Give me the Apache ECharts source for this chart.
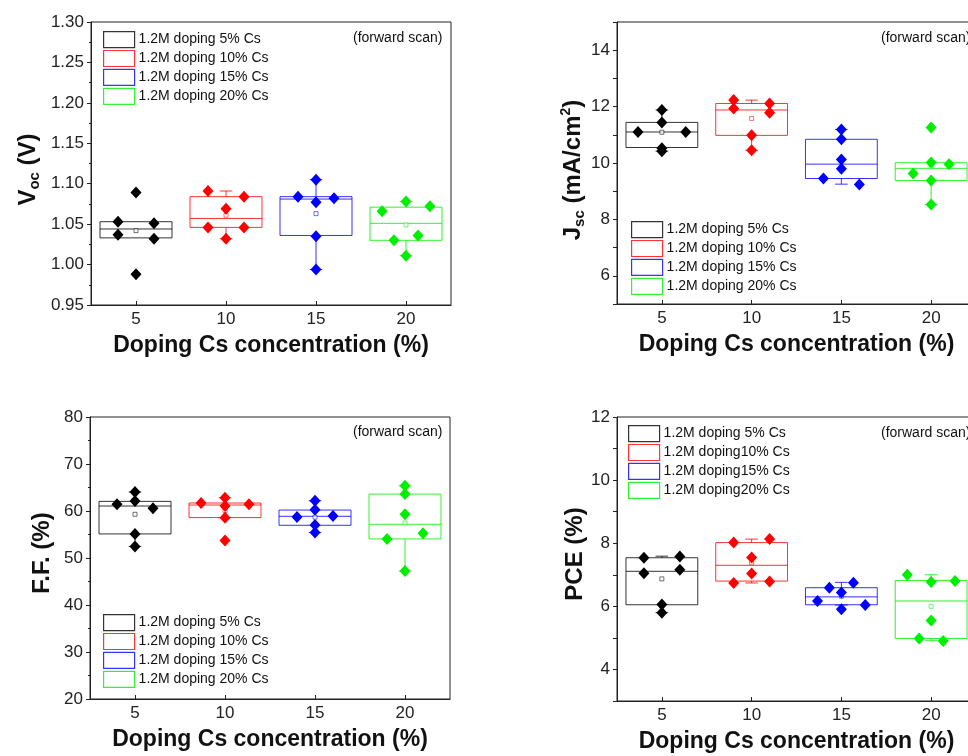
<!DOCTYPE html>
<html>
<head>
<meta charset="utf-8">
<title>Cs doping box charts</title>
<script src="https://cdn.jsdelivr.net/npm/echarts@6/dist/echarts.min.js"></script>
<style>
  html, body { margin: 0; padding: 0; background: #fff; }
  #chart { width: 968px; height: 756px; }
</style>
</head>
<body>
<div id="chart"></div>
<script>
// ---- data ----
const concentrations = [5, 10, 15, 20];
const colors = ['#000000', '#ff0000', '#0000ff', '#00ee00'];
const legendNames = ['1.2M doping 5% Cs', '1.2M doping 10% Cs', '1.2M doping 15% Cs', '1.2M doping 20% Cs'];
const pceLegendNames = ['1.2M doping 5% Cs', '1.2M doping10% Cs', '1.2M doping15% Cs', '1.2M doping20% Cs'];

// box stats per concentration: [low whisker, Q1, median, Q3, high whisker, mean]
const vocBoxes = [
  [1.033, 1.033, 1.044, 1.053, 1.053, 1.042],
  [1.032, 1.046, 1.057, 1.084, 1.091, 1.061],
  [0.994, 1.036, 1.081, 1.084, 1.105, 1.063],
  [1.011, 1.030, 1.051, 1.071, 1.078, 1.049]
];
const jscBoxes = [
  [10.42, 10.55, 11.10, 11.44, 11.88, 11.09],
  [10.45, 10.98, 11.88, 12.11, 12.23, 11.58],
  [9.25, 9.45, 9.96, 10.84, 11.19, 10.10],
  [8.53, 9.38, 9.81, 10.01, 10.01, 9.87]
];
const ffBoxes = [
  [52.44, 55.12, 61.06, 62.05, 64.03, 59.3],
  [58.59, 58.6, 61.27, 61.7, 62.83, 60.1],
  [55.41, 56.96, 58.87, 60.2, 62.19, 58.7],
  [47.21, 54.06, 57.17, 63.6, 65.37, 57.45]
];
const pceBoxes = [
  [5.80, 6.05, 7.11, 7.54, 7.59, 6.87],
  [6.74, 6.80, 7.30, 8.02, 8.13, 7.38],
  [6.04, 6.05, 6.30, 6.59, 6.76, 6.32],
  [4.91, 4.98, 6.17, 6.82, 7.00, 6.00]
];

// single devices (6 per concentration) and their horizontal offset in the plot
const vocPoints = [
  [1.053, 1.037, 1.089, 0.988, 1.051, 1.032],
  [1.091, 1.084, 1.069, 1.046, 1.046, 1.032],
  [1.105, 1.084, 1.082, 1.077, 1.035, 0.994],
  [1.066, 1.078, 1.072, 1.030, 1.036, 1.011]
];
const vocJitter = [[-1, -1, 0, 0, 1, 1], [-1, 1, 0, -1, 1, 0], [0, -1, 1, 0, 0, 0], [-1.33, 0, 1.33, -0.67, 0.67, 0]];
const jscPoints = [
  [11.88, 11.44, 11.10, 11.10, 10.52, 10.42],
  [12.23, 12.11, 11.93, 11.78, 10.98, 10.45],
  [11.19, 10.84, 10.12, 9.80, 9.45, 9.24],
  [11.26, 10.02, 9.96, 9.63, 9.38, 8.53]
];
const jscJitter = [[0, 0, -1.33, 1.33, 0, 0], [-1, 1, -1, 1, 0, 0], [0, 0, 0, 0, -1, 1], [0, 0, 1, -1, 0, 0]];
const ffPoints = [
  [64.03, 62.12, 61.41, 60.57, 55.12, 52.44],
  [62.83, 61.70, 61.41, 61.06, 58.59, 53.71],
  [62.19, 60.28, 58.73, 58.94, 57.03, 55.41],
  [65.37, 63.60, 59.29, 55.27, 54.06, 47.21]
];
const ffJitter = [[0, 0, -1, 1, 0, 0], [0, -1.33, 1.33, 0, 0, 0], [0, 0, -1, 1, 0, 0], [0, 0, 0, 1, -1, 0]];
const pcePoints = [
  [7.54, 7.58, 7.05, 7.16, 6.06, 5.80],
  [8.02, 8.13, 7.55, 7.04, 6.74, 6.79],
  [6.75, 6.59, 6.44, 6.17, 6.04, 5.91],
  [7.00, 6.77, 6.80, 5.55, 4.98, 4.90]
];
const pceJitter = [[-1, 1, -1, 1, 0, 0], [-1, 1, 0, 0, -1, 1], [0.67, -0.67, 0, -1.33, 1.33, 0], [-1.33, 0, 1.33, 0, -0.67, 0.67]];

// tick labels
const vocTicks = [0.95, 1.00, 1.05, 1.10, 1.15, 1.20, 1.25, 1.30];
const jscTicks = [6, 8, 10, 12, 14];
const ffTicks = [20, 30, 40, 50, 60, 70, 80];
const pceTicks = [4, 6, 8, 10, 12];

const FONT = '"Liberation Sans", Arial, Helvetica, sans-serif';

// box drawn on the value axes: Q1-Q3 rectangle, median, whiskers + caps, hollow mean square
function renderBox(params, api) {
  const x = api.value(0);
  const low = api.value(1), q1 = api.value(2), med = api.value(3);
  const q3 = api.value(4), high = api.value(5), mean = api.value(6);
  const color = api.visual('color');
  const style = { stroke: color, fill: null, lineWidth: 1, opacity: 0.8 };
  const tl = api.coord([x - 2, q3]);
  const br = api.coord([x + 2, q1]);
  const m = api.coord([x, med]);
  const children = [
    { type: 'rect', shape: { x: tl[0], y: tl[1], width: br[0] - tl[0], height: br[1] - tl[1] }, style: style },
    { type: 'line', shape: { x1: tl[0], y1: m[1], x2: br[0], y2: m[1] }, style: style }
  ];
  const whisker = function (from, to) {
    const a = api.coord([x, from]);
    const b = api.coord([x, to]);
    const c1 = api.coord([x - 0.35, to]);
    const c2 = api.coord([x + 0.35, to]);
    children.push({ type: 'line', shape: { x1: a[0], y1: a[1], x2: b[0], y2: b[1] }, style: style });
    children.push({ type: 'line', shape: { x1: c1[0], y1: c1[1], x2: c2[0], y2: c2[1] }, style: style });
  };
  if (high > q3) whisker(q3, high);
  if (low < q1) whisker(q1, low);
  const mc = api.coord([x, mean]);
  children.push({ type: 'rect', shape: { x: mc[0] - 2, y: mc[1] - 2, width: 4, height: 4 }, style: { stroke: color, fill: '#fff', lineWidth: 0.8, opacity: 0.7 } });
  return { type: 'group', children: children };
}

function panelSeries(idx, boxes, points, jitter, names) {
  const out = [];
  concentrations.forEach(function (c, i) {
    out.push({
      type: 'custom',
      name: names[i],
      xAxisIndex: idx,
      yAxisIndex: idx,
      itemStyle: { color: colors[i] },
      renderItem: renderBox,
      data: [[c].concat(boxes[i])],
      z: 2
    });
    out.push({
      type: 'scatter',
      name: 'pts' + idx + '-' + c,
      xAxisIndex: idx,
      yAxisIndex: idx,
      symbol: 'diamond',
      symbolSize: [11, 12],
      itemStyle: { color: colors[i], opacity: 1 },
      data: points[i].map(function (v, k) { return [c + jitter[i][k], v]; }),
      z: 3
    });
  });
  return out;
}

function xAxisFor(idx) {
  return {
    type: 'value', gridIndex: idx, min: 2.5, max: 22.5,
    name: 'Doping Cs concentration (%)', nameLocation: 'middle', nameGap: 29,
    nameTextStyle: { fontSize: 23, fontWeight: 'bold', color: '#111', fontFamily: FONT },
    axisLine: { show: true, onZero: false, lineStyle: { color: '#222', width: 1 } },
    axisTick: { show: true, inside: true, length: 4, customValues: concentrations, lineStyle: { color: '#222' } },
    axisLabel: { customValues: concentrations, fontSize: 17, color: '#222', margin: 6, fontFamily: FONT },
    splitLine: { show: false }
  };
}

function yAxisFor(idx, cfg) {
  const ax = {
    type: 'value', gridIndex: idx, min: cfg.min, max: cfg.max, interval: cfg.interval,
    name: cfg.name, nameLocation: 'middle', nameGap: cfg.gap,
    nameTextStyle: {
      color: '#111', fontFamily: FONT, fontSize: 24, fontWeight: 'bold', padding: cfg.namePad,
      rich: {
        b: { fontSize: 24, fontWeight: 'bold', lineHeight: 28, color: '#111', fontFamily: FONT },
        s: { fontSize: 15, fontWeight: 'bold', lineHeight: 15, verticalAlign: 'bottom', color: '#111', fontFamily: FONT },
        p: { fontSize: 14, fontWeight: 'bold', lineHeight: 14, verticalAlign: 'top', color: '#111', fontFamily: FONT }
      }
    },
    axisLine: { show: true, lineStyle: { color: '#222', width: 1 } },
    axisTick: { show: true, inside: false, length: 4, lineStyle: { color: '#222' } },
    axisLabel: { fontSize: 17, color: '#222', margin: 7, fontFamily: FONT, formatter: cfg.formatter },
    splitLine: { show: false }
  };
  if (cfg.labels) ax.axisLabel.customValues = cfg.labels;
  if (cfg.minor) ax.minorTick = { show: true, splitNumber: 2, length: 2, lineStyle: { color: '#222' } };
  return ax;
}

function legendFor(names, left, top) {
  return {
    orient: 'vertical', left: left, top: top, padding: 0,
    itemWidth: 31, itemHeight: 16, itemGap: 1.7, icon: 'rect', selectedMode: false,
    textStyle: { fontSize: 14, lineHeight: 16, color: '#111', fontFamily: FONT, padding: [0, 0, 0, -1] },
    data: names.map(function (n, i) {
      return { name: n, itemStyle: { color: 'rgba(0,0,0,0)', borderColor: colors[i], borderWidth: 1.2, opacity: 0.8 } };
    })
  };
}

function scanNote(left, top) {
  return { text: '(forward scan)', left: left, top: top, padding: 0,
    textStyle: { fontSize: 14, fontWeight: 'normal', color: '#111', fontFamily: FONT } };
}

const gridBase = { show: true, borderColor: '#222', borderWidth: 1, backgroundColor: 'rgba(0,0,0,0)', containLabel: false, outerBoundsMode: 'none' };

const option = {
  backgroundColor: '#ffffff',
  animation: false,
  textStyle: { fontFamily: FONT },
  grid: [
    Object.assign({ left: 91, top: 22, width: 360, height: 283 }, gridBase),
    Object.assign({ left: 617, top: 22, width: 359, height: 282 }, gridBase),
    Object.assign({ left: 90, top: 417, width: 360, height: 282 }, gridBase),
    Object.assign({ left: 617, top: 417, width: 359, height: 284 }, gridBase)
  ],
  title: [scanNote(353, 31), scanNote(881, 31), scanNote(353, 425), scanNote(881, 426)],
  legend: [
    legendFor(legendNames, 103, 31),
    legendFor(legendNames, 631, 221),
    legendFor(legendNames, 103, 614),
    legendFor(pceLegendNames, 628, 425)
  ],
  xAxis: [xAxisFor(0), xAxisFor(1), xAxisFor(2), xAxisFor(3)],
  yAxis: [
    yAxisFor(0, { min: vocTicks[0], max: vocTicks[vocTicks.length - 1], interval: 0.05, minor: true, gap: 49,
      namePad: [0, 12, 0, 0],
      name: '{b|V}{s|oc}{b| (V)}', formatter: function (v) { return v.toFixed(2); } }),
    yAxisFor(1, { min: 5, max: 15, interval: 1, labels: jscTicks, gap: 24,
      namePad: [0, 14, 0, 0],
      name: '{b|J}{s|sc}{b| (mA/cm}{p|2}{b|)}' }),
    yAxisFor(2, { min: ffTicks[0], max: ffTicks[ffTicks.length - 1], interval: 10, minor: true, gap: 34,
      namePad: [0, 0, 0, 10],
      name: '{b|F.F. (%)}' }),
    yAxisFor(3, { min: 3, max: 12, interval: 1, labels: pceTicks, gap: 26,
      namePad: [0, 0, 0, 10],
      name: '{b|PCE (%)}' })
  ],
  series: [].concat(
    panelSeries(0, vocBoxes, vocPoints, vocJitter, legendNames),
    panelSeries(1, jscBoxes, jscPoints, jscJitter, legendNames),
    panelSeries(2, ffBoxes, ffPoints, ffJitter, legendNames),
    panelSeries(3, pceBoxes, pcePoints, pceJitter, pceLegendNames)
  )
};

const myChart = echarts.init(document.getElementById('chart'), null, { renderer: 'canvas' });
myChart.setOption(option);
window.onresize = function () { myChart.resize(); };
</script>
</body>
</html>
